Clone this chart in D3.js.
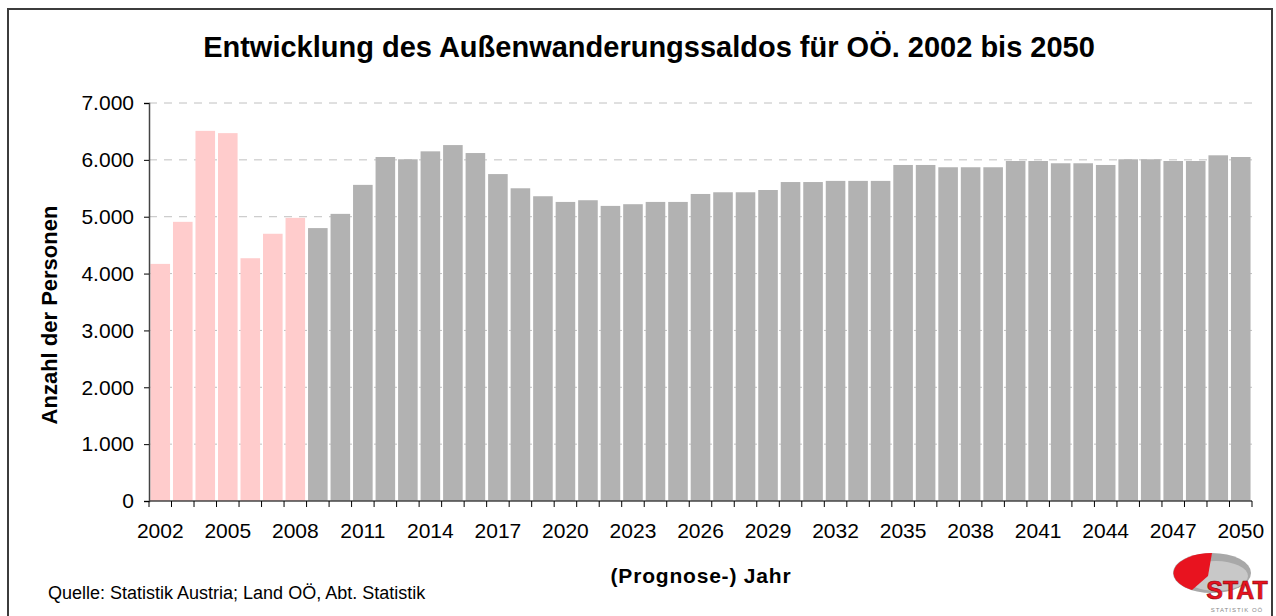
<!DOCTYPE html>
<meta charset="utf-8">
<style>
  body { margin: 0; background: #fff; }
  text { font-family: "Liberation Sans", Arial, sans-serif; }
</style>
<div id="my_dataviz"></div>
<script src="https://d3js.org/d3.v7.min.js"></script>
<script>

// data
var years = ["2002","2003","2004","2005","2006","2007","2008","2009","2010","2011",
             "2012","2013","2014","2015","2016","2017","2018","2019","2020","2021",
             "2022","2023","2024","2025","2026","2027","2028","2029","2030","2031",
             "2032","2033","2034","2035","2036","2037","2038","2039","2040","2041",
             "2042","2043","2044","2045","2046","2047","2048","2049","2050"];
var saldo = [4170, 4910, 6510, 6470, 4270, 4700, 4980, 4800, 5050, 5560,
             6050, 6010, 6150, 6260, 6120, 5750, 5500, 5360, 5260, 5290,
             5190, 5220, 5260, 5260, 5400, 5430, 5430, 5470, 5610, 5610,
             5630, 5630, 5630, 5910, 5910, 5870, 5870, 5870, 5980, 5980,
             5940, 5940, 5910, 6010, 6010, 5980, 5980, 6080, 6050];
var lastActual = "2008";   // up to here: real values (pink), then prognosis (grey)
var yTicks = [0, 1000, 2000, 3000, 4000, 5000, 6000, 7000];
var xLabels = ["2002","2005","2008","2011","2014","2017","2020","2023","2026",
               "2029","2032","2035","2038","2041","2044","2047","2050"];

var W = 1276, H = 616;
var plot = {left: 149, right: 1252, top: 103, bottom: 501};

var svg = d3.select("#my_dataviz")
  .append("svg")
    .attr("width", W)
    .attr("height", H);

// outer frame
svg.append("rect")
  .attr("x", 8).attr("y", 9)
  .attr("width", 1264).attr("height", 620)
  .attr("fill", "none")
  .attr("stroke", "#3c3c3c")
  .attr("stroke-width", 2);

var x = d3.scaleBand()
  .domain(years)
  .range([plot.left, plot.right])
  .paddingInner(0.13)
  .paddingOuter(0.065);

var y = d3.scaleLinear()
  .domain([0, 7000])
  .range([plot.bottom, plot.top]);

// dashed grid lines behind the bars
svg.append("g")
  .selectAll("line")
  .data(yTicks.filter(function(d) { return d > 0; }))
  .enter().append("line")
    .attr("x1", plot.left).attr("x2", plot.right)
    .attr("y1", function(d) { return y(d); })
    .attr("y2", function(d) { return y(d); })
    .attr("stroke", "#c0c0c0")
    .attr("stroke-dasharray", "8,7");

// bars
svg.append("g")
  .selectAll("rect")
  .data(years)
  .enter().append("rect")
    .attr("x", function(d) { return x(d); })
    .attr("width", x.bandwidth())
    .attr("y", function(d, i) { return y(saldo[i]); })
    .attr("height", function(d, i) { return y(0) - y(saldo[i]); })
    .attr("fill", function(d) { return +d <= +lastActual ? "#ffcccc" : "#b2b2b2"; });

// Y axis
var yAxis = svg.append("g")
  .attr("transform", "translate(" + plot.left + ",0)")
  .call(d3.axisLeft(y).tickValues(yTicks).tickSize(5).tickPadding(10)
    .tickFormat(function(d) { return d === 0 ? "0" : d3.format(",")(d).replace(/,/g, "."); }));
yAxis.select(".domain").attr("stroke", "#444").attr("stroke-width", 1.5);
yAxis.selectAll("text")
  .attr("font-size", 21)
  .attr("font-family", "'Liberation Sans', Arial, sans-serif")
  .attr("fill", "#000");

// X axis: line + ticks on the category boundaries
var xAxis = svg.append("g");
xAxis.append("line")
  .attr("x1", plot.left).attr("x2", plot.right)
  .attr("y1", y(0)).attr("y2", y(0))
  .attr("stroke", "#444").attr("stroke-width", 1.5);
var step = x.step();
xAxis.selectAll("line.tk")
  .data(d3.range(years.length + 1))
  .enter().append("line")
    .attr("class", "tk")
    .attr("x1", function(i) { return plot.left + i * step; })
    .attr("x2", function(i) { return plot.left + i * step; })
    .attr("y1", y(0)).attr("y2", y(0) + 6)
    .attr("stroke", "#000");
xAxis.selectAll("text")
  .data(xLabels)
  .enter().append("text")
    .attr("x", function(d) { return x(d) + x.bandwidth() / 2; })
    .attr("y", 538)
    .attr("text-anchor", "middle")
    .attr("font-size", 21)
    .text(function(d) { return d; });

// title and axis titles
svg.append("text")
  .attr("x", 649).attr("y", 57)
  .attr("text-anchor", "middle")
  .attr("font-size", 29)
  .attr("font-weight", "bold")
  .text("Entwicklung des Außenwanderungssaldos für OÖ. 2002 bis 2050");

svg.append("text")
  .attr("transform", "translate(57,315) rotate(-90)")
  .attr("text-anchor", "middle")
  .attr("font-size", 22)
  .attr("font-weight", "bold")
  .text("Anzahl der Personen");

svg.append("text")
  .attr("x", 701).attr("y", 583)
  .attr("text-anchor", "middle")
  .attr("font-size", 21)
  .attr("font-weight", "bold")
  .attr("letter-spacing", 0.8)
  .text("(Prognose-) Jahr");

svg.append("text")
  .attr("x", 48).attr("y", 599)
  .attr("font-size", 18)
  .text("Quelle: Statistik Austria; Land OÖ, Abt. Statistik");

// small STAT logo, bottom right
var logo = svg.append("g").attr("transform", "translate(1212,573)");
logo.append("ellipse")
  .attr("rx", 39).attr("ry", 20)
  .attr("fill", "#a8a8a8");
logo.append("ellipse")
  .attr("cx", 4).attr("cy", 3).attr("rx", 32).attr("ry", 15)
  .attr("fill", "#c8c8c8");
logo.append("path")
  .attr("d", "M0,-20 A39,20 0 0,0 -20,17 L-4,3 Z")
  .attr("fill", "#e8131f");
logo.append("text")
  .attr("x", 25).attr("y", 26)
  .attr("text-anchor", "middle")
  .attr("font-size", 25)
  .attr("font-weight", "bold")
  .attr("fill", "#e8131f")
  .attr("stroke", "#8a0a10")
  .attr("stroke-width", 0.6)
  .text("STAT");
logo.append("text")
  .attr("x", 25).attr("y", 39)
  .attr("text-anchor", "middle")
  .attr("font-size", 6)
  .attr("letter-spacing", 1)
  .attr("fill", "#888")
  .text("STATISTIK OÖ");

</script>
